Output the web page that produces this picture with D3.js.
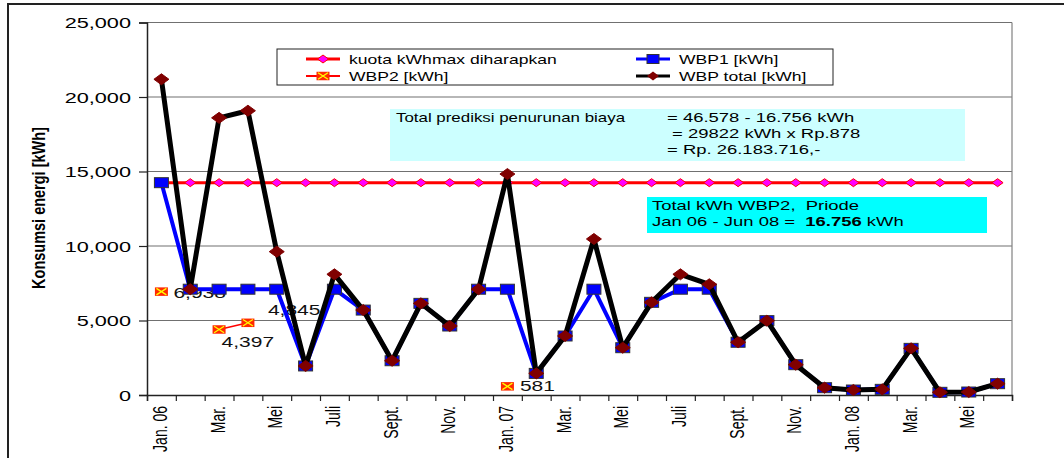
<!DOCTYPE html>
<html>
<head>
<meta charset="utf-8">
<script src="https://cdn.jsdelivr.net/npm/d3@7"></script>
<style>
  body { margin: 0; background: #fff; }
  svg { display: block; }
  svg text { white-space: pre; }
</style>
</head>
<body>
<svg id="chart" width="1064" height="458"></svg>
<script>
// Monthly categories, Jan 2006 - Jun 2008 (labels shown on every other month)
const categories = [
  "Jan. 06", "Feb.", "Mar.", "Apr.", "Mei", "Jun.", "Juli", "Agust.", "Sept.", "Okt.", "Nov.", "Des.",
  "Jan. 07", "Feb.", "Mar.", "Apr.", "Mei", "Jun.", "Juli", "Agust.", "Sept.", "Okt.", "Nov.", "Des.",
  "Jan. 08", "Feb.", "Mar.", "Apr.", "Mei", "Jun."
];

// Expected maximum kWh quota
const kuota = [
  14250, 14250, 14250, 14250, 14250, 14250, 14250, 14250, 14250, 14250, 14250, 14250,
  14250, 14250, 14250, 14250, 14250, 14250, 14250, 14250, 14250, 14250, 14250, 14250,
  14250, 14250, 14250, 14250, 14250, 14250
];

// WBP1 consumption [kWh]
const wbp1 = [
  14250, 7100, 7100, 7100, 7100, 1950, 7100, 5700, 2300, 6150, 4630, 7100,
  7100, 1450, 3960, 7100, 3175, 6220, 7100, 7100, 3540, 4990, 2035, 490,
  335, 380, 3130, 180, 200, 760
];

// WBP2 consumption [kWh] (only a few months recorded)
const wbp2 = [
  6938, null, 4397, 4845, null, null, null, null, null, null, null, null,
  581, null, null, null, null, null, null, null, null, null, null, null,
  null, null, null, null, null, null
];

// Total WBP consumption [kWh]
const wbpTotal = [
  21190, 7100, 18600, 19080, 9620, 1950, 8100, 5700, 2300, 6150, 4630, 7100,
  14830, 1450, 3960, 10470, 3175, 6220, 8100, 7430, 3540, 4990, 2035, 490,
  335, 380, 3130, 180, 200, 760
];

const yTicks = [0, 5000, 10000, 15000, 20000, 25000];

const legendLabels = ["kuota kWhmax diharapkan", "WBP1 [kWh]", "WBP2 [kWh]", "WBP total [kWh]"];

const noteLeft = "Total prediksi penurunan biaya";
const noteRight = ["= 46.578 - 16.756 kWh", " = 29822 kWh x Rp.878", "= Rp. 26.183.716,-"];
const note2Line1 = "Total kWh WBP2,  Priode";
const note2Line2 = ["Jan 06 - Jun 08 =  ", "16.756", " kWh"];

// ---- layout ----
const FONT = "'Liberation Sans', Arial, Helvetica, sans-serif";
const plot = { left: 147, right: 1012, top: 22.5, bottom: 395 };

const svg = d3.select("#chart");

const x = d3.scaleBand()
  .domain(d3.range(categories.length))
  .range([plot.left, plot.right])
  .paddingInner(0).paddingOuter(0);
const cx = i => x(i) + x.bandwidth() / 2;

const y = d3.scaleLinear().domain([0, 25000]).range([plot.bottom, plot.top]);

// text drawn with a horizontal stretch
function stext(g, px, py, str, o) {
  return g.append("text")
    .attr("transform", `translate(${px},${py}) scale(${o.sx || 1},1)`)
    .attr("text-anchor", o.anchor || "start")
    .style("font-family", FONT)
    .style("font-size", (o.size || 13) + "px")
    .style("font-weight", o.weight || "normal")
    .attr("fill", o.fill || "#000")
    .text(str);
}

// outer frame
svg.append("rect")
  .attr("x", 8).attr("y", 4).attr("width", 1100).attr("height", 500)
  .attr("fill", "#fff").attr("stroke", "#222").attr("stroke-width", 2);

// gridlines
svg.append("g")
  .selectAll("line")
  .data(yTicks.filter(d => d > 0))
  .join("line")
  .attr("x1", plot.left).attr("x2", plot.right)
  .attr("y1", d => y(d)).attr("y2", d => y(d))
  .attr("stroke", "#707070").attr("stroke-width", 1.2);

// plot right border
svg.append("line")
  .attr("x1", plot.right).attr("x2", plot.right)
  .attr("y1", plot.top).attr("y2", plot.bottom)
  .attr("stroke", "#808080").attr("stroke-width", 1.2);

// ---- axes ----
const yAxis = svg.append("g")
  .attr("transform", `translate(${plot.left},0)`)
  .call(d3.axisLeft(y).tickValues(yTicks).tickSize(8).tickFormat(d3.format(",")));
yAxis.select(".domain").attr("stroke", "#222").attr("stroke-width", 1.5);
yAxis.selectAll(".tick line").attr("stroke", "#222").attr("stroke-width", 1.2);
yAxis.selectAll(".tick text")
  .attr("x", null).attr("dy", null)
  .attr("transform", "translate(-16,5) scale(1.55,1)")
  .attr("text-anchor", "end")
  .style("font-family", FONT).style("font-size", "14px").attr("fill", "#000");

// tick marks at the month boundaries
const xb = d3.scaleLinear().domain([0, categories.length]).range([plot.left, plot.right]);
const xTickAxis = svg.append("g")
  .attr("transform", `translate(0,${plot.bottom})`)
  .call(d3.axisBottom(xb).tickValues(d3.range(categories.length + 1)).tickSize(6).tickFormat(""));
xTickAxis.select(".domain").attr("stroke", "#222").attr("stroke-width", 1.5);
xTickAxis.selectAll(".tick line").attr("stroke", "#222").attr("stroke-width", 1.2);

// month labels at the centre of every other month
const xAxis = svg.append("g")
  .attr("transform", `translate(0,${plot.bottom})`)
  .call(d3.axisBottom(x)
    .tickValues(d3.range(0, categories.length, 2))
    .tickSize(0)
    .tickFormat(i => categories[i]));
xAxis.select(".domain").remove();
xAxis.selectAll(".tick text")
  .attr("y", null).attr("dy", null)
  .attr("transform", "translate(5.5,11) scale(1.5,1) rotate(-90)")
  .attr("text-anchor", "end")
  .style("font-family", FONT).style("font-size", "14px").attr("fill", "#000");

// axis title
svg.append("text")
  .attr("transform", "translate(45,208) scale(1.3,1) rotate(-90)")
  .attr("text-anchor", "middle")
  .style("font-family", FONT).style("font-size", "14.5px").style("font-weight", "bold")
  .text("Konsumsi energi [kWh]");

// ---- marker helpers ----
function diamond(hw, hh) { return `M0,${-hh}L${hw},0L0,${hh}L${-hw},0Z`; }

function drawSquare(g, px, py, w, h, fill, stroke) {
  g.append("rect").attr("x", px - w / 2).attr("y", py - h / 2)
    .attr("width", w).attr("height", h)
    .attr("fill", fill).attr("stroke", stroke).attr("stroke-width", 1);
}
function drawCross(g, px, py) {
  const w = 13, h = 8.5;
  g.append("rect").attr("x", px - w / 2).attr("y", py - h / 2)
    .attr("width", w).attr("height", h).attr("fill", "#ff2a00");
  g.append("path")
    .attr("d", `M${px - w / 2 + 1.5},${py - h / 2 + 1}L${px + w / 2 - 1.5},${py + h / 2 - 1}M${px + w / 2 - 1.5},${py - h / 2 + 1}L${px - w / 2 + 1.5},${py + h / 2 - 1}`)
    .attr("stroke", "#ffff00").attr("stroke-width", 1.3).attr("fill", "none");
}

// ---- WBP2 value labels (drawn beneath the series lines) ----
const labelOffsets = { 0: [12, 6.5], 2: [2.5, 17.5], 3: [20, -8], 12: [12.5, 5] };
const fmt = d3.format(",");
const labelG = svg.append("g");
wbp2.forEach((v, i) => {
  if (v == null) return;
  const [dx, dy] = labelOffsets[i];
  stext(labelG, cx(i) + dx, y(v) + dy, fmt(v), { size: 14, sx: 1.5, fill: "#111" });
});

// ---- series ----
const line = d3.line()
  .defined(d => d.v != null)
  .x(d => cx(d.i)).y(d => y(d.v));
const pts = arr => arr.map((v, i) => ({ i, v }));

// kuota
const gK = svg.append("g");
gK.append("path").attr("d", line(pts(kuota)))
  .attr("fill", "none").attr("stroke", "#ff0000").attr("stroke-width", 3);
gK.selectAll("path.m").data(pts(kuota)).join("path").attr("class", "m")
  .attr("transform", d => `translate(${cx(d.i)},${y(d.v)})`)
  .attr("d", diamond(5.5, 4))
  .attr("fill", "#ff00ff").attr("stroke", "#ff0000").attr("stroke-width", 1);

// WBP1
const g1 = svg.append("g");
g1.append("path").attr("d", line(pts(wbp1)))
  .attr("fill", "none").attr("stroke", "#0000ff").attr("stroke-width", 4)
  .attr("stroke-linejoin", "round");
pts(wbp1).forEach(d => drawSquare(g1, cx(d.i), y(d.v), 14, 10, "#0000ff", "#333"));

// WBP2
const g2 = svg.append("g");
g2.append("path").attr("d", line(pts(wbp2)))
  .attr("fill", "none").attr("stroke", "#ff0000").attr("stroke-width", 1.5);
pts(wbp2).filter(d => d.v != null).forEach(d => drawCross(g2, cx(d.i), y(d.v)));

// WBP total
const gT = svg.append("g");
gT.append("path").attr("d", line(pts(wbpTotal)))
  .attr("fill", "none").attr("stroke", "#000").attr("stroke-width", 5)
  .attr("stroke-linejoin", "round");
gT.selectAll("path.m").data(pts(wbpTotal)).join("path").attr("class", "m")
  .attr("transform", d => `translate(${cx(d.i)},${y(d.v)})`)
  .attr("d", diamond(7.5, 5.5))
  .attr("fill", "#800000").attr("stroke", "#800000").attr("stroke-width", 1);

// ---- legend ----
const lg = svg.append("g");
lg.append("rect").attr("x", 277).attr("y", 49).attr("width", 556).attr("height", 36)
  .attr("fill", "#fff").attr("stroke", "#222").attr("stroke-width", 1);
const legendPos = [[306, 59], [636, 59], [306, 76], [636, 76]];
legendPos.forEach(([lx, ly], k) => {
  const mid = lx + 17;
  if (k === 0) {
    lg.append("line").attr("x1", lx).attr("x2", lx + 34).attr("y1", ly).attr("y2", ly)
      .attr("stroke", "#ff0000").attr("stroke-width", 3);
    lg.append("path").attr("transform", `translate(${mid},${ly})`).attr("d", diamond(5.5, 4))
      .attr("fill", "#ff00ff").attr("stroke", "#ff0000");
  } else if (k === 1) {
    lg.append("line").attr("x1", lx).attr("x2", lx + 34).attr("y1", ly).attr("y2", ly)
      .attr("stroke", "#0000ff").attr("stroke-width", 3);
    drawSquare(lg, mid, ly, 12, 9, "#0000ff", "#333");
  } else if (k === 2) {
    lg.append("line").attr("x1", lx).attr("x2", lx + 34).attr("y1", ly).attr("y2", ly)
      .attr("stroke", "#ff0000").attr("stroke-width", 2);
    drawCross(lg, mid, ly);
  } else {
    lg.append("line").attr("x1", lx).attr("x2", lx + 34).attr("y1", ly).attr("y2", ly)
      .attr("stroke", "#000").attr("stroke-width", 3);
    lg.append("path").attr("transform", `translate(${mid},${ly})`).attr("d", diamond(6, 4.5))
      .attr("fill", "#800000");
  }
  stext(lg, lx + 43, ly + 4.5, legendLabels[k], { size: 13, sx: 1.35 });
});

// ---- cost saving note ----
const n1 = svg.append("g");
n1.append("rect").attr("x", 390).attr("y", 109).attr("width", 575).attr("height", 52)
  .attr("fill", "#ccffff");
stext(n1, 396, 122, noteLeft, { size: 13, sx: 1.3 });
stext(n1, 667, 122, noteRight[0], { size: 13, sx: 1.42 });
stext(n1, 667, 138, noteRight[1], { size: 13, sx: 1.42 });
stext(n1, 667, 154, noteRight[2], { size: 13, sx: 1.42 });

// ---- WBP2 total note ----
const n2 = svg.append("g");
n2.append("rect").attr("x", 647).attr("y", 197).attr("width", 340).attr("height", 36)
  .attr("fill", "#00ffff");
stext(n2, 652, 209.5, note2Line1, { size: 13, sx: 1.42 });
const t2 = n2.append("text")
  .attr("transform", "translate(652,225.5) scale(1.42,1)")
  .style("font-family", FONT).style("font-size", "13px");
t2.append("tspan").text(note2Line2[0]);
t2.append("tspan").style("font-weight", "bold").text(note2Line2[1]);
t2.append("tspan").text(note2Line2[2]);
</script>
</body>
</html>
